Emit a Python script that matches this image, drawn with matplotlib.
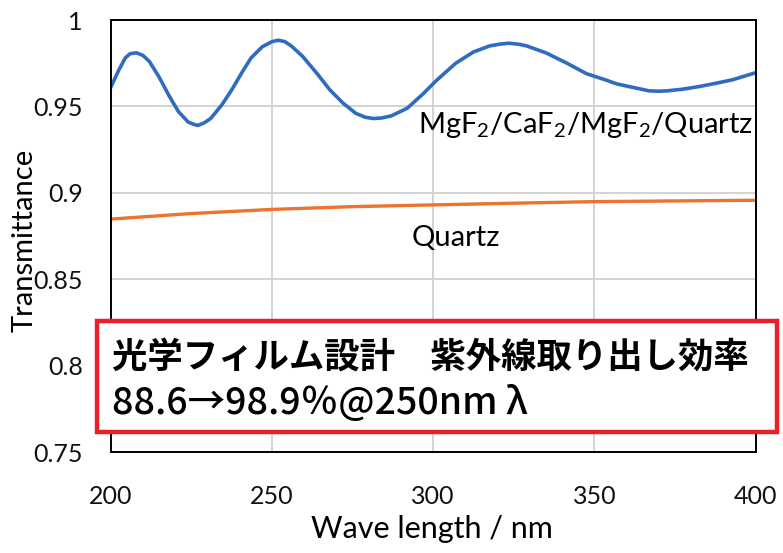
import numpy as np
import matplotlib.pyplot as plt
from matplotlib.patches import Rectangle

# data
wl_coat = [200, 202.5, 204.5, 206, 208, 210, 212, 215, 218, 221,
           224, 225.5, 227, 229, 231, 234.5, 237.5, 240.5, 243.5, 247,
           250, 252, 254, 256, 259.5, 264, 268, 272, 276, 279,
           281.5, 284, 287, 292, 297, 301, 307, 312.5, 317.5, 320.5,
           323.5, 326.5, 329, 335, 341.5, 347.5, 354, 357, 362, 367,
           370, 372.5, 377.5, 382.5, 388, 393, 400]
T_coat = [0.961, 0.971, 0.978, 0.9805, 0.981, 0.9795, 0.976, 0.967, 0.9565, 0.947,
          0.941, 0.9398, 0.939, 0.9405, 0.943, 0.951, 0.9595, 0.969, 0.978, 0.9845,
          0.9875, 0.9883, 0.9875, 0.985, 0.979, 0.969, 0.9595, 0.952, 0.946, 0.9437,
          0.943, 0.9433, 0.9445, 0.949, 0.9575, 0.965, 0.975, 0.9815, 0.985, 0.986,
          0.9866, 0.986, 0.985, 0.981, 0.975, 0.969, 0.965, 0.963, 0.961, 0.959,
          0.9588, 0.959, 0.96, 0.9615, 0.9635, 0.9655, 0.9695]

wl_bare = [200, 225, 250, 275, 300, 325, 350, 375, 400]
T_bare = [0.8848, 0.888, 0.8904, 0.892, 0.893, 0.894, 0.8949, 0.8953, 0.8957]

xticks = [200, 250, 300, 350, 400]
yticks = [0.75, 0.8, 0.85, 0.9, 0.95, 1.0]
ylabels = ['0.75', '0.8', '0.85', '0.9', '0.95', '1']

plt.rcParams['font.family'] = ['Lato', 'DejaVu Sans']
plt.rcParams['mathtext.fontset'] = 'custom'
plt.rcParams['mathtext.rm'] = 'Lato'

fig = plt.figure(figsize=(7.83, 5.53), dpi=100)
ax = fig.add_axes([0.1414, 0.1826, 0.8236, 0.7812])

ax.plot(wl_coat, T_coat, color='#2f6cc0', lw=2.6, solid_joinstyle='round')
ax.plot(wl_bare, T_bare, color='#ec7330', lw=2.4)

ax.set_xlim(200, 400)
ax.set_ylim(0.75, 1.0)
ax.set_xticks(xticks)
ax.set_yticks(yticks)
ax.set_yticklabels(ylabels)
ax.tick_params(length=0, labelsize=18, colors='#111111')
ax.tick_params(axis='y', pad=20)
ax.tick_params(axis='x', pad=24)
ax.grid(True, color='#d0d0d0', lw=1.3)
ax.set_axisbelow(True)
for s in ax.spines.values():
    s.set_color('black')
    s.set_linewidth(1.4)

ax.set_xlabel('Wave length / nm', fontsize=22)
ax.set_ylabel('Transmittance', fontsize=21)
ax.xaxis.set_label_coords(0.498, -0.146)
ax.yaxis.set_label_coords(-0.113, 0.49)

ax.text(295.3, 0.9348, 'MgF$_2$/CaF$_2$/MgF$_2$/Quartz', fontsize=21, va='baseline', ha='left')
ax.text(293.3, 0.8692, 'Quartz', fontsize=21, va='baseline', ha='left')

# red box with Japanese text
fig.patches.append(Rectangle((0.124, 0.219), 0.868, 0.201, transform=fig.transFigure,
                             facecolor='white', edgecolor='#e8202a', lw=3.2, zorder=5))
fig.text(0.143, 0.353, '光学フィルム設計　紫外線取り出し効率', fontsize=25.5, fontweight='bold',
         family=['Noto Sans CJK JP', 'DejaVu Sans'], va='center', zorder=6)
fig.text(0.143, 0.272, '88.6→98.9％@250nm λ', fontsize=27, fontweight='medium',
         family=['Noto Sans CJK JP', 'DejaVu Sans'], va='center', zorder=6)

plt.savefig('out.png', dpi=100)
